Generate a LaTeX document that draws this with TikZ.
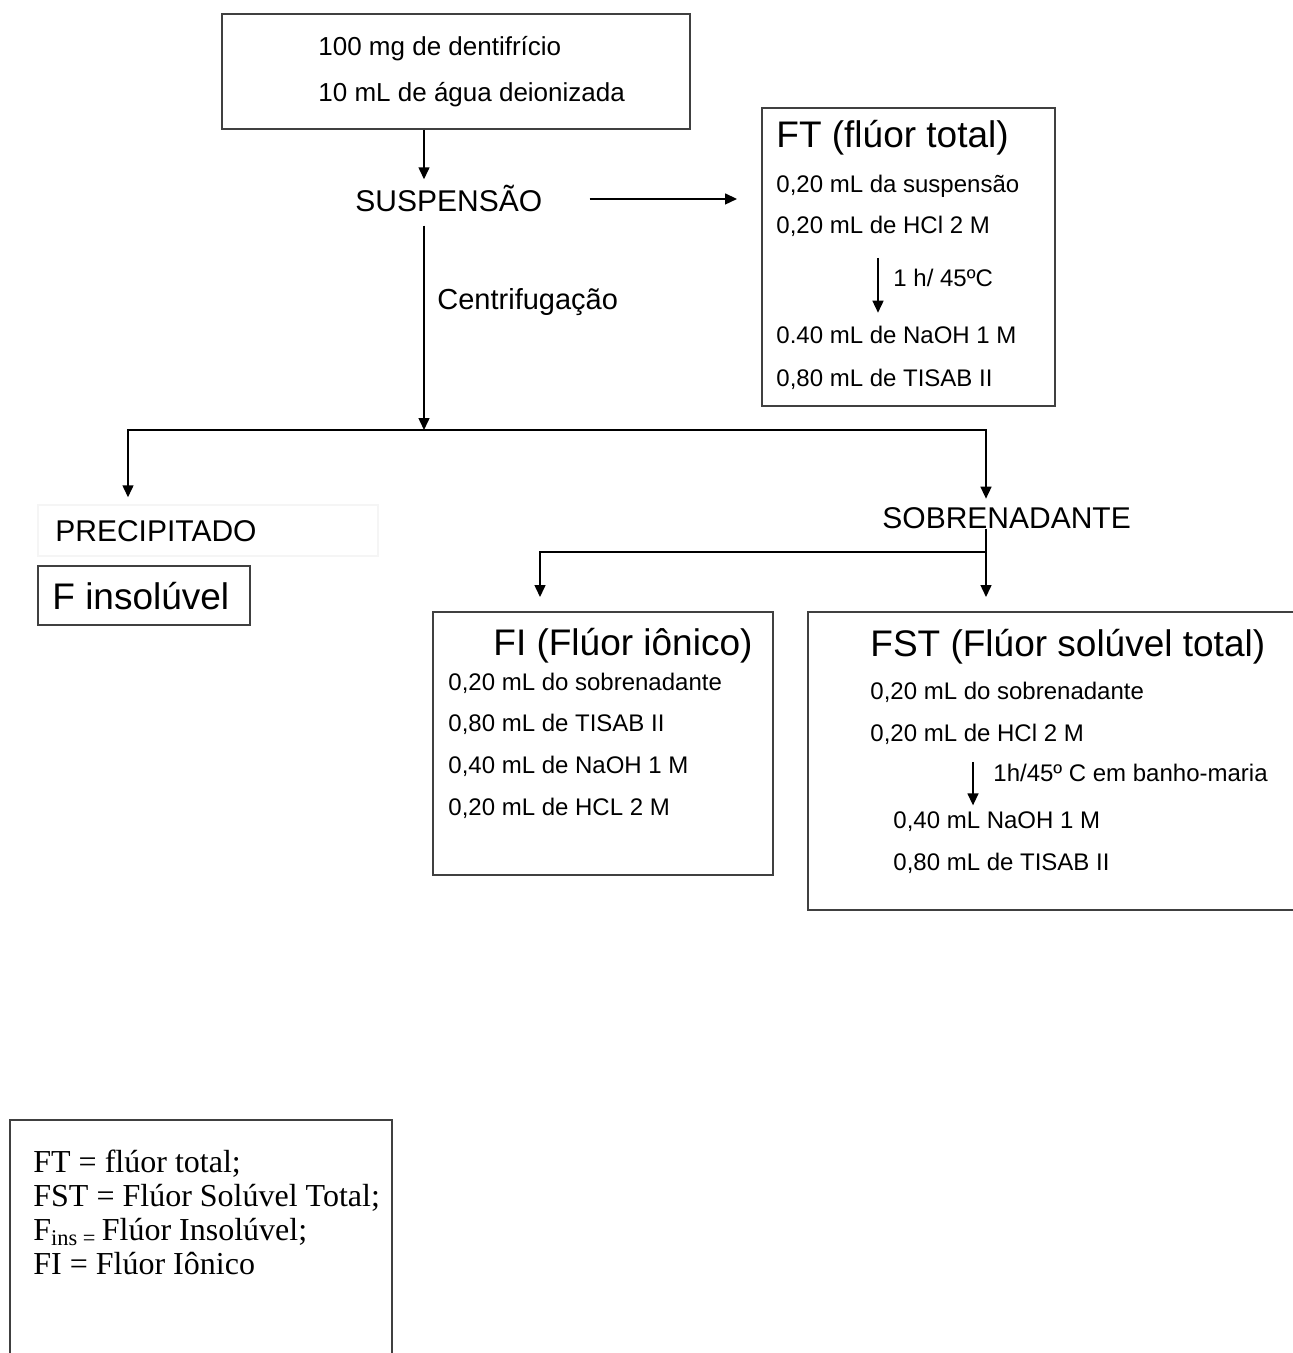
\documentclass[tikz,border=0pt]{standalone}
\usepackage{fontspec}
\setmainfont{Liberation Serif}
\setsansfont{Liberation Sans}
\usetikzlibrary{arrows.meta}

\tikzset{
  box/.style={draw=black!75, line width=1pt, inner sep=0pt},
  faint/.style={draw=black!4, line width=0.75pt, inner sep=0pt},
  txt/.style={font=\sffamily\fontsize{12}{14}\selectfont, anchor=base west, inner sep=0pt},
  srctxt/.style={font=\sffamily\fontsize{13}{15}\selectfont, anchor=base west, inner sep=0pt},
  title/.style={font=\sffamily\fontsize{18.5}{22}\selectfont, anchor=base west, inner sep=0pt},
  label/.style={font=\sffamily\fontsize{15}{18}\selectfont, anchor=base west, inner sep=0pt},
  legtxt/.style={font=\rmfamily\fontsize{16}{18}\selectfont, anchor=base west, inner sep=0pt},
  wire/.style={line width=0.75pt},
  arr/.style={line width=0.75pt, -{Triangle[length=6pt,width=5.5pt]}},
}

\begin{document}
\begin{tikzpicture}[x=0.5pt, y=-0.5pt]
    \useasboundingbox (0,0) rectangle (1292,1353);

    % Boxes:
    \node[box, minimum width=234pt, minimum height=57.5pt] (src) at (456,71.5) {};
    \node[box, minimum width=146.5pt, minimum height=149pt] (ft) at (908.5,257) {};
    \node[faint, minimum width=170pt, minimum height=25.5pt] (prec) at (208,530.5) {};
    \node[box, minimum width=106pt, minimum height=29.5pt] (finsol) at (144,595.5) {};
    \node[box, minimum width=170pt, minimum height=131.5pt] (fi) at (603,743.5) {};
    \node[box, minimum width=250pt, minimum height=149pt] (fst) at (1058,761) {};
    \node[box, minimum width=191pt, minimum height=120pt] (legend) at (201,1240) {};

    % Texts:
    \node[srctxt] (src1) at (318,56) {100 mg de dentifrício};
    \node[srctxt] (src2) at (318,102) {10 mL de água deionizada};
    \node[label] (susp) at (355,212) {SUSPENSÃO};
    \node[label, font=\sffamily\fontsize{14.5}{17}\selectfont] (centr) at (437,310) {Centrifugação};
    \node[label] (precl) at (55,541) {PRECIPITADO};
    \node[label] (sob) at (882,528) {SOBRENADANTE};
    \node[title] (finsoll) at (52,609) {F insolúvel};

    \node[title] (ftt) at (776,148) {FT (flúor total)};
    \node[txt] (ft1) at (776,192.5) {0,20 mL da suspensão};
    \node[txt] (ft2) at (776,233.5) {0,20 mL de HCl 2 M};
    \node[txt] (ftlab) at (893,286.5) {1 h/ 45ºC};
    \node[txt] (ft3) at (776,343.5) {0.40 mL de NaOH 1 M};
    \node[txt] (ft4) at (776,386.5) {0,80 mL de TISAB II};

    \node[title] (fit) at (493,655) {FI (Flúor iônico)};
    \node[txt] (fi1) at (448,690.5) {0,20 mL do sobrenadante};
    \node[txt] (fi2) at (448,731.5) {0,80 mL de TISAB II};
    \node[txt] (fi3) at (448,773.5) {0,40 mL de NaOH 1 M};
    \node[txt] (fi4) at (448,815.5) {0,20 mL de HCL 2 M};

    \node[title] (fstt) at (870,656) {FST (Flúor solúvel total)};
    \node[txt] (fst1) at (870,699.5) {0,20 mL do sobrenadante};
    \node[txt] (fst2) at (870,741.5) {0,20 mL de HCl 2 M};
    \node[txt] (fstlab) at (993,781.5) {1h/45º C em banho-maria};
    \node[txt] (fst3) at (893,828.5) {0,40 mL NaOH 1 M};
    \node[txt] (fst4) at (893,870.5) {0,80 mL de TISAB II};

    \node[legtxt] (leg1) at (33,1172.5) {FT = flúor total;};
    \node[legtxt] (leg2) at (33,1206.5) {FST = Flúor Solúvel Total;};
    \node[legtxt] (leg3) at (33,1240.5) {F\textsubscript{ins =}\,Flúor Insolúvel;};
    \node[legtxt] (leg4) at (33,1274.5) {FI = Flúor Iônico};

    % Wires and arrows:
    \coordinate (trunk) at (424,0);
    \coordinate (split) at (424,430);
    \coordinate (sobsplit) at (986,552);
    \coordinate (ftdrop) at (878,0);
    \coordinate (fstdrop) at (973,0);

    \draw[arr, shorten >=3pt] (src.south -| trunk) -- (susp.north -| trunk);
    \draw[arr, shorten <=23.5pt, shorten >=12pt] (susp.east) -- (susp.east -| ft.west);
    \draw[arr, shorten <=6.5pt] (susp.south -| split) -- (split);
    \draw[arr, shorten >=3.5pt] (split) -| ([xshift=-40pt]prec.north);
    \draw[arr, shorten >=4pt] (split) -| (sob.north -| sobsplit);
    \draw[wire] (sob.south -| sobsplit) -- (sobsplit);
    \draw[arr, shorten >=7pt] (sobsplit) -- (fst.north -| sobsplit);
    \draw[arr, shorten >=7pt] (sobsplit) -| ([xshift=-31.5pt]fi.north);
    \draw[arr, shorten <=10.5pt, shorten >=6.5pt] (ft2.south -| ftdrop) -- (ft3.north -| ftdrop);
    \draw[arr, shorten <=8.5pt, shorten >=3pt] (fst2.south -| fstdrop) -- (fst3.north -| fstdrop);
\end{tikzpicture}
\end{document}
